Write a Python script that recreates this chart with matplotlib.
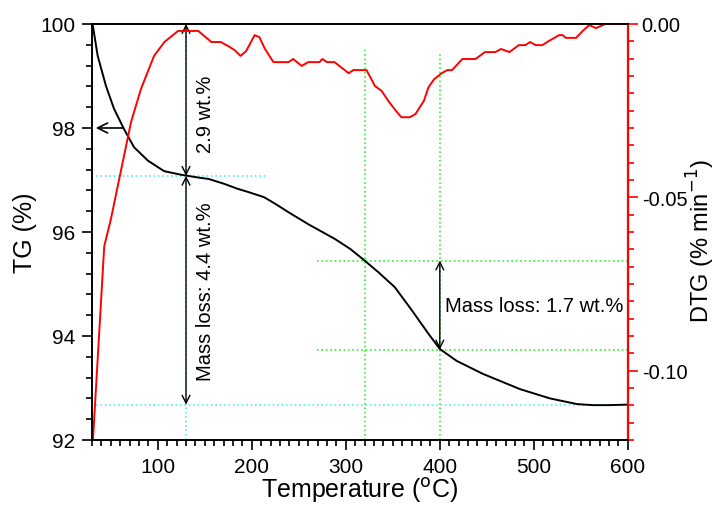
import matplotlib
matplotlib.use("Agg")
import matplotlib.pyplot as plt
from matplotlib.ticker import MultipleLocator, FuncFormatter

plt.rcParams['font.family'] = ['Liberation Sans', 'DejaVu Sans']

# TG curve (temperature in C, mass in %)
tg_temp = [30.6, 36, 44.8, 53.4, 64, 74.7, 89.6, 106.7, 125, 142, 154,
           170, 185, 196, 213, 226, 239, 260, 288, 305, 320, 335, 352, 370,
           388, 400, 418, 446, 485, 517, 546, 563, 580, 600]
tg_mass = [100.0, 99.39, 98.81, 98.37, 97.98, 97.63, 97.37, 97.17, 97.1,
           97.05, 97.02, 96.93, 96.83, 96.77, 96.67, 96.53, 96.38, 96.15, 95.87,
           95.67, 95.45, 95.22, 94.94, 94.5, 94.04, 93.75, 93.52, 93.27, 92.98,
           92.8, 92.69, 92.67, 92.67, 92.68]

# DTG curve (% / min)
dtg_temp = [31, 43, 50, 71.5, 82, 96, 107, 121.5, 143, 157, 167, 175, 181.5,
            188, 194, 203, 208, 214, 223, 239, 244, 253, 260, 272, 275, 280,
            288, 303, 308, 317, 322, 331, 338, 346, 352, 359, 368, 374, 383,
            388, 394, 402, 408, 413, 424, 438, 448, 459, 465, 474, 484, 491,
            496, 502, 509, 516, 527, 530.5, 534, 545, 552, 559, 566, 571, 576,
            590]
dtg_rate = [-0.12, -0.0641, -0.0564, -0.0283, -0.0188, -0.0092, -0.0052, -0.002,
            -0.002, -0.0052, -0.0052, -0.0064, -0.0075, -0.0092, -0.0078,
            -0.0032, -0.0038, -0.0072, -0.011, -0.011, -0.0101, -0.0121, -0.011,
            -0.011, -0.0101, -0.011, -0.011, -0.0142, -0.0133, -0.0133, -0.0133,
            -0.0179, -0.0193, -0.0225, -0.0246, -0.0269, -0.0269, -0.026,
            -0.0222, -0.0182, -0.0159, -0.0142, -0.0133, -0.0133, -0.0101,
            -0.0101, -0.0081, -0.0081, -0.0072, -0.0081, -0.0061, -0.0061,
            -0.0052, -0.0061, -0.0061, -0.0049, -0.0032, -0.0032, -0.004, -0.004,
            -0.002, -0.0003, -0.0012, -0.0006, 0.0, 0.0]

# mass-loss markers
step1_temp = 130
step1_levels = [100.0, 97.08, 92.68]
step2_temps = [320, 400]
step2_levels = [95.45, 93.74]

fig = plt.figure(figsize=(7.2, 5.06), dpi=100)
ax = fig.add_axes([0.1278, 0.1285, 0.7442, 0.8221])
ax2 = ax.twinx()

# guide lines
cyan = '#55eeee'
green = '#33ee33'
ax.plot([34, 216], [step1_levels[1]] * 2, ls=':', color=cyan, lw=1.2)
ax.plot([34, 600], [step1_levels[2]] * 2, ls=':', color=cyan, lw=1.2)
ax.plot([step1_temp] * 2, [92, 100], ls=':', color=cyan, lw=1.2)
ax.plot([step2_temps[0]] * 2, [92, 99.55], ls=':', color=green, lw=1.2)
ax.plot([step2_temps[1]] * 2, [92, 99.45], ls=':', color=green, lw=1.2)
for lev in step2_levels:
    ax.plot([269, 600], [lev, lev], ls=':', color=green, lw=1.2)

ax.plot(tg_temp, tg_mass, color='black', lw=1.4)

arrow = dict(arrowstyle='<->', color='black', lw=1, shrinkA=0, shrinkB=0,
             mutation_scale=14)
ax.annotate('', xy=(step1_temp, step1_levels[0]), xytext=(step1_temp, step1_levels[1]),
            arrowprops=arrow)
ax.annotate('', xy=(step1_temp, step1_levels[1]), xytext=(step1_temp, step1_levels[2]),
            arrowprops=arrow)
ax.annotate('', xy=(step2_temps[1], step2_levels[0]), xytext=(step2_temps[1], step2_levels[1]),
            arrowprops=arrow)
ax.annotate('', xy=(34, 98.0), xytext=(63, 98.0),
            arrowprops=dict(arrowstyle='->', color='black', lw=1.2, shrinkA=0,
                            shrinkB=0, mutation_scale=18))

ax.text(151, 98.29, '2.9 wt.%', rotation=90, ha='center', va='center', fontsize=14.5)
ax.text(151, 94.87, 'Mass loss: 4.4 wt.%', rotation=90, ha='center', va='center',
        fontsize=14.5)
ax.text(406, 94.58, 'Mass loss: 1.7 wt.%', ha='left', va='center', fontsize=14.5)

ax2.plot(dtg_temp, dtg_rate, color='red', lw=1.4)
ax2.annotate('', xy=(602, -0.0051), xytext=(516, -0.0051),
             arrowprops=dict(arrowstyle='->', color='red', lw=1.2, shrinkA=0,
                             shrinkB=0, mutation_scale=18))

ax.set_xlim(30, 600)
ax.set_ylim(92, 100)
ax2.set_ylim(-0.12, 0.0)

ax.xaxis.set_major_locator(MultipleLocator(100))
ax.xaxis.set_minor_locator(MultipleLocator(10))
ax.yaxis.set_major_locator(MultipleLocator(2))
ax.yaxis.set_minor_locator(MultipleLocator(0.4))
ax.yaxis.set_major_formatter(FuncFormatter(lambda v, p: '%d' % v))

ax2.yaxis.set_major_locator(MultipleLocator(0.05))
ax2.yaxis.set_minor_locator(MultipleLocator(0.005))
ax2.yaxis.set_major_formatter(FuncFormatter(lambda v, p: '%.2f' % v))

ax.tick_params(which='both', direction='out', labelsize=15, width=1.2, pad=5)
ax.tick_params(which='major', length=7)
ax.tick_params(which='minor', length=4)
ax.tick_params(axis='y', right=False)
ax.tick_params(axis='x', top=False)
ax2.tick_params(which='both', direction='out', color='red', width=1.2,
                labelsize=14.5, pad=3)
ax2.tick_params(which='major', length=7)
ax2.tick_params(which='minor', length=4)

for a in (ax, ax2):
    for s in a.spines.values():
        s.set_linewidth(1.2)
ax2.spines['right'].set_color('red')
ax2.spines['right'].set_linewidth(1.6)

ax.set_xlabel('Temperature ($^{\\mathrm{o}}$C)', fontsize=18)
ax.set_ylabel('TG (%)', fontsize=18)
ax2.set_ylabel('DTG (% min$^{-1}$)', fontsize=17)
ax.xaxis.set_label_coords(0.5, -0.084)
ax.yaxis.set_label_coords(-0.103, 0.5)
ax2.yaxis.set_label_coords(1.106, 0.48)

fig.savefig('out.png', dpi=100)
